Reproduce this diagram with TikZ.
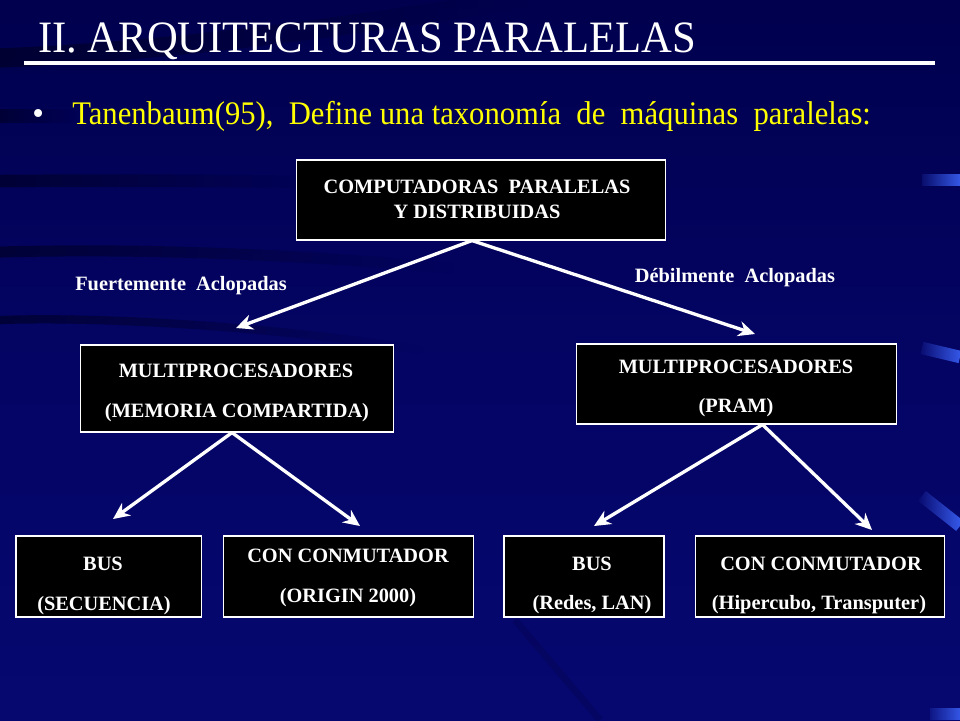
\documentclass[tikz,border=0pt]{standalone}
\usepackage{fontspec}
\setmainfont{Liberation Serif}
\newfontfamily\narrowserif{Liberation Serif}[FakeStretch=0.95]
\newfontfamily\subserif{Liberation Serif}[FakeStretch=0.93]
\usetikzlibrary{arrows.meta,calc,fadings}
\definecolor{navybg}{RGB}{4,4,100}
\definecolor{navydark}{RGB}{0,0,78}
\definecolor{navylight}{RGB}{6,8,112}
\definecolor{streak}{RGB}{0,0,30}
\definecolor{accent}{RGB}{60,100,250}
\definecolor{subyellow}{RGB}{255,255,0}
\tikzset{
  box/.style={draw=white, line width=0.8pt, fill=black, inner sep=0pt},
  boxtext/.style={text=white, font=\fontsize{14.7}{17}\selectfont\bfseries, anchor=base, inner sep=0pt},
  arr/.style={draw=white, line width=2.4pt, -{Stealth[length=12pt,width=11pt]}},
  streakline/.style={draw=streak, line cap=round, opacity=0.6, path fading=east},
  accentbar/.style={draw=accent, line width=9pt, path fading=west},
}
\begin{document}
\begin{tikzpicture}[x=0.01in,y=-0.01in]
\useasboundingbox (0,0) rectangle (960,720);
% background
\shade[top color=navydark, bottom color=navylight, middle color=navybg] (0,0) rectangle (960,720);
% dark streaks
\draw[streakline, line width=14pt] (0,58) .. controls (200,50) and (380,20) .. (520,0);
\draw[streakline, line width=10pt] (0,116) -- (70,116);
\draw[streakline, line width=9pt] (0,181) .. controls (120,180) and (250,181) .. (320,182);
\draw[streakline, line width=8pt] (0,252) .. controls (150,248) and (300,255) .. (450,268);
\draw[streakline, line width=6pt] (0,320) .. controls (120,316) and (300,330) .. (420,350);
\draw[draw=streak, opacity=0.15, line width=5pt] (515,620) -- (600,720);
% right accents
\draw[accentbar] (922,180) -- (960,180);
\draw[accentbar] (922,348) -- (960,357);
\draw[accentbar] (922,496) -- (960,526);
\draw[accentbar] (930,714) -- (960,714);
% title
\node[anchor=base west, inner sep=0pt, text=white, font=\narrowserif\fontsize{32.4}{36}\selectfont] (title) at (38,52) {II. ARQUITECTURAS PARALELAS};
\draw[white, line width=3pt] (24,63) -- (935,63);
\node[anchor=base west, inner sep=0pt, text=white, font=\fontsize{24}{28}\selectfont] (bullet) at (32,124) {\textbullet};
\node[anchor=base west, inner sep=0pt, text=subyellow, font=\subserif\fontsize{23.8}{28}\selectfont] (sub) at (72,124) {Tanenbaum(95),\ \ Define\ una\ taxonomía\ \ de\ \ máquinas\ \ paralelas:};
% boxes
\node[box, minimum width=3.68in, minimum height=0.80in] (top) at (481,200) {};
\node[box, minimum width=3.12in, minimum height=0.87in] (mpl) at (237,388.5) {};
\node[box, minimum width=3.19in, minimum height=0.80in] (mpr) at (736.5,384) {};
\node[box, minimum width=1.85in, minimum height=0.81in] (busl) at (108.5,576.5) {};
\node[box, minimum width=2.49in, minimum height=0.81in] (conl) at (348.5,576.5) {};
\node[box, minimum width=1.60in, minimum height=0.81in] (busr) at (584,576.5) {};
\node[box, minimum width=2.48in, minimum height=0.81in] (conr) at (820,576.5) {};
% box texts
\node[boxtext] (top1) at (477,193) {COMPUTADORAS\ \ PARALELAS};
\node[boxtext] (top2) at (477,218) {Y DISTRIBUIDAS};
\node[boxtext] (mpl1) at (236,377) {MULTIPROCESADORES};
\node[boxtext] (mpl2) at (237,417) {(MEMORIA COMPARTIDA)};
\node[boxtext] (mpr1) at (736,373) {MULTIPROCESADORES};
\node[boxtext] (mpr2) at (736,412) {(PRAM)};
\node[boxtext] (busl1) at (103,570) {BUS};
\node[boxtext] (busl2) at (104,610) {(SECUENCIA)};
\node[boxtext] (conl1) at (348,562) {CON CONMUTADOR};
\node[boxtext] (conl2) at (348,602) {(ORIGIN 2000)};
\node[boxtext] (busr1) at (592,570) {BUS};
\node[boxtext] (busr2) at (592,609) {(Redes, LAN)};
\node[boxtext] (conr1) at (821,570) {CON CONMUTADOR};
\node[boxtext] (conr2) at (819,609) {(Hipercubo, Transputer)};
% edge labels
\node[boxtext] (fuerte) at (181,290) {Fuertemente\ \ Aclopadas};
\node[boxtext] (debil) at (735,282) {Débilmente\ \ Aclopadas};
% arrow ends
\coordinate (e1) at (236,328);
\coordinate (e2) at (755,334);
\coordinate (e3) at (113,519);
\coordinate (e4) at (360,526);
\coordinate (e5) at (594,526);
\coordinate (e6) at (872,530);
% arrows
\draw[arr] ($(top.south)+(-9,0)$) -- (e1);
\draw[arr] ($(top.south)+(-9,0)$) -- (e2);
\draw[arr] ($(mpl.south)+(-5,0)$) -- (e3);
\draw[arr] ($(mpl.south)+(-5,0)$) -- (e4);
\draw[arr] ($(mpr.south)+(26,0)$) -- (e5);
\draw[arr] ($(mpr.south)+(26,0)$) -- (e6);
\end{tikzpicture}
\end{document}
